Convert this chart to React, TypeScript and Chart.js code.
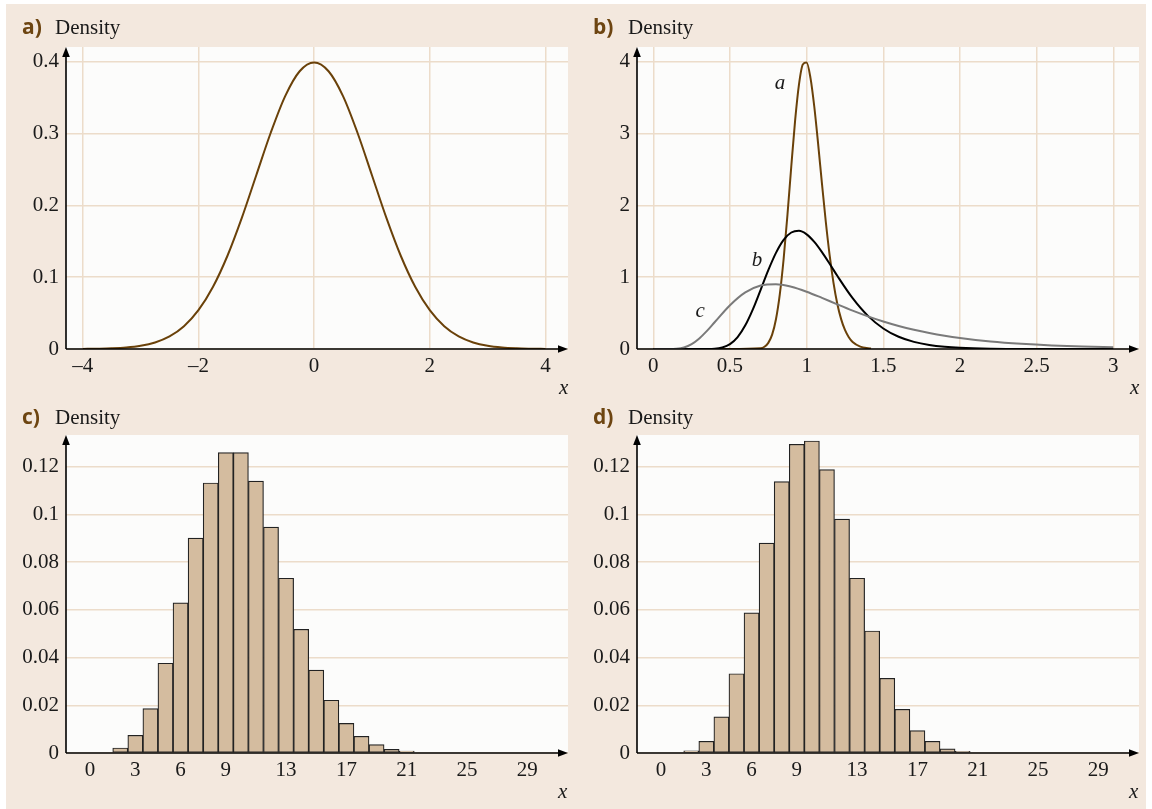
import React, { useEffect, useRef } from 'react';
import { Chart, registerables } from 'chart.js';

Chart.register(...registerables);

const SERIF = '"Liberation Serif", "Times New Roman", serif';
const SANS = '"Open Sans", "DejaVu Sans", sans-serif';
const BG = '#f3e8de';
const PLOT_BG = '#fcfcfb';
const GRID = '#ecdcca';
const BROWN = '#6a4109';
const LABEL_BROWN = '#6d4511';
const TEXT = '#1a1a1a';
const BAR_FILL = '#d4bc9f';
const BAR_EDGE = '#222222';

// ---------- Panel a: density curve ----------
const aX = [-4, -3.75, -3.5, -3.25, -3, -2.75, -2.5, -2.25, -2, -1.75, -1.5, -1.25, -1, -0.75, -0.5, -0.25, 0,
  0.25, 0.5, 0.75, 1, 1.25, 1.5, 1.75, 2, 2.25, 2.5, 2.75, 3, 3.25, 3.5, 3.75, 4];
const aY = [0.0001, 0.0004, 0.0009, 0.002, 0.0044, 0.0091, 0.0175, 0.0317, 0.054, 0.0863, 0.1295, 0.1826, 0.242,
  0.3011, 0.3521, 0.3867, 0.3989, 0.3867, 0.3521, 0.3011, 0.242, 0.1826, 0.1295, 0.0863, 0.054, 0.0317, 0.0175,
  0.0091, 0.0044, 0.002, 0.0009, 0.0004, 0.0001];
const aXTicks = [-4, -2, 0, 2, 4];
const aXTickLabels = ['–4', '–2', '0', '2', '4'];
const aYTicks = [0, 0.1, 0.2, 0.3, 0.4];
const aYTickLabels = ['0', '0.1', '0.2', '0.3', '0.4'];

// ---------- Panel b: three curves ----------
const curveAX = [0, 0.5, 0.7, 0.725, 0.75, 0.775, 0.8, 0.825, 0.85, 0.875, 0.9, 0.925, 0.95, 0.975, 1.0, 1.025,
  1.05, 1.075, 1.1, 1.125, 1.15, 1.175, 1.2, 1.225, 1.25, 1.275, 1.3, 1.35, 1.4, 1.42];
const curveAY = [0, 0, 0.01, 0.031, 0.085, 0.2, 0.414, 0.76, 1.253, 1.869, 2.544, 3.183, 3.682, 3.962, 3.989, 3.775,
  3.373, 2.857, 2.303, 1.772, 1.306, 0.925, 0.631, 0.416, 0.265, 0.164, 0.098, 0.033, 0.01, 0.006];
const curveBX = [0, 0.3, 0.4, 0.45, 0.5, 0.55, 0.6, 0.65, 0.7, 0.75, 0.8, 0.85, 0.9, 0.95, 1.0, 1.05, 1.1, 1.15,
  1.2, 1.3, 1.4, 1.5, 1.6, 1.7, 1.8, 1.9, 2.0, 2.2, 2.5, 3.0];
const curveBY = [0, 0.0001, 0.005, 0.022, 0.068, 0.166, 0.33, 0.556, 0.824, 1.098, 1.339, 1.52, 1.622, 1.645,
  1.596, 1.491, 1.349, 1.187, 1.019, 0.708, 0.461, 0.286, 0.17, 0.099, 0.056, 0.031, 0.017, 0.005, 0.001, 0];
const curveCX = [0, 0.1, 0.15, 0.2, 0.25, 0.3, 0.35, 0.4, 0.5, 0.6, 0.7, 0.8, 0.9, 1.0, 1.1, 1.2, 1.3, 1.4, 1.5,
  1.6, 1.7, 1.8, 1.9, 2.0, 2.2, 2.4, 2.6, 2.8, 3.0];
const curveCY = [0, 0.0002, 0.004, 0.022, 0.068, 0.147, 0.252, 0.372, 0.61, 0.789, 0.884, 0.903, 0.867, 0.798,
  0.712, 0.622, 0.535, 0.455, 0.383, 0.321, 0.267, 0.222, 0.184, 0.153, 0.105, 0.072, 0.049, 0.034, 0.024];
const curveNames = ['a', 'b', 'c'];
const bXTicks = [0, 0.5, 1, 1.5, 2, 2.5, 3];
const bXTickLabels = ['0', '0.5', '1', '1.5', '2', '2.5', '3'];
const bYTicks = [0, 1, 2, 3, 4];
const bYTickLabels = ['0', '1', '2', '3', '4'];

// ---------- Panels c, d: histograms ----------
const histCX = [2, 3, 4, 5, 6, 7, 8, 9, 10, 11, 12, 13, 14, 15, 16, 17, 18, 19, 20, 21];
const histCY = [0.0021, 0.0074, 0.0186, 0.0376, 0.0629, 0.09, 0.1131, 0.1258, 0.1258, 0.1139, 0.0946, 0.0732,
  0.0518, 0.0347, 0.0221, 0.0124, 0.007, 0.0035, 0.0015, 0.0008];
const histDX = [2, 3, 4, 5, 6, 7, 8, 9, 10, 11, 12, 13, 14, 15, 16, 17, 18, 19, 20];
const histDY = [0.0009, 0.0049, 0.0151, 0.0332, 0.0587, 0.0879, 0.1137, 0.1293, 0.1307, 0.1187, 0.098, 0.0732,
  0.0511, 0.0313, 0.0183, 0.0094, 0.0049, 0.0017, 0.0007];
const histXTicks = [0, 3, 6, 9, 13, 17, 21, 25, 29];
const histXTickLabels = ['0', '3', '6', '9', '13', '17', '21', '25', '29'];
const histYTicks = [0, 0.02, 0.04, 0.06, 0.08, 0.1, 0.12];
const histYTickLabels = ['0', '0.02', '0.04', '0.06', '0.08', '0.1', '0.12'];

// ---------- helpers ----------
const framePlugin = {
  id: 'frame',
  beforeDraw(chart: any) {
    const { ctx, chartArea } = chart;
    const { left, top, right, bottom } = chartArea;
    ctx.save();
    ctx.fillStyle = PLOT_BG;
    ctx.fillRect(left, top, right - left, bottom - top);
    ctx.restore();
  },
  afterDatasetsDraw(chart: any) {
    const { ctx, chartArea } = chart;
    const { left, top, right, bottom } = chartArea;
    ctx.save();
    ctx.strokeStyle = '#000';
    ctx.fillStyle = '#000';
    ctx.lineWidth = 1.6;
    ctx.beginPath();
    ctx.moveTo(left, bottom);
    ctx.lineTo(left, top + 6);
    ctx.moveTo(left, bottom);
    ctx.lineTo(right - 6, bottom);
    ctx.stroke();
    ctx.beginPath();
    ctx.moveTo(left, top);
    ctx.lineTo(left - 3.8, top + 10);
    ctx.lineTo(left + 3.8, top + 10);
    ctx.closePath();
    ctx.fill();
    ctx.beginPath();
    ctx.moveTo(right, bottom);
    ctx.lineTo(right - 10, bottom - 3.8);
    ctx.lineTo(right - 10, bottom + 3.8);
    ctx.closePath();
    ctx.fill();
    ctx.restore();
  },
};

function curveTextPlugin(items: { text: string; x: number; y: number }[]) {
  return {
    id: 'curveText',
    afterDatasetsDraw(chart: any) {
      const { ctx } = chart;
      const xs = chart.scales.x;
      const ys = chart.scales.y;
      ctx.save();
      ctx.font = `italic 21px ${SERIF}`;
      ctx.fillStyle = TEXT;
      ctx.textAlign = 'center';
      ctx.textBaseline = 'middle';
      items.forEach((it) => ctx.fillText(it.text, xs.getPixelForValue(it.x), ys.getPixelForValue(it.y)));
      ctx.restore();
    },
  };
}

type AxisOpts = {
  xMin: number; xMax: number; yMax: number;
  xTicks: number[]; xLabels: string[]; yTicks: number[]; yLabels: string[];
  vGrid: boolean; pad: { left: number; top: number; right: number; bottom: number };
};

function baseOptions(o: AxisOpts): any {
  const tickFont = { family: SERIF, size: 21 };
  return {
    responsive: false,
    animation: false,
    events: [],
    layout: { autoPadding: false, padding: o.pad },
    plugins: { legend: { display: false }, tooltip: { enabled: false }, title: { display: false } },
    scales: {
      x: {
        type: 'linear',
        offset: false,
        min: o.xMin,
        max: o.xMax,
        afterBuildTicks: (s: any) => { s.ticks = o.xTicks.map((v) => ({ value: v })); },
        afterFit: (s: any) => { s.height = 40; },
        grid: { display: o.vGrid, offset: false, color: GRID, lineWidth: 1.5, drawTicks: false },
        border: { display: false },
        ticks: {
          autoSkip: false, maxRotation: 0, minRotation: 0, padding: 5, color: TEXT, font: tickFont,
          callback: (_v: any, i: number) => o.xLabels[i],
        },
      },
      y: {
        type: 'linear',
        min: 0,
        max: o.yMax,
        afterBuildTicks: (s: any) => { s.ticks = o.yTicks.map((v) => ({ value: v })); },
        afterFit: (s: any) => { s.width = 50; },
        grid: { color: GRID, lineWidth: 1.5, drawTicks: false },
        border: { display: false },
        ticks: {
          autoSkip: false, padding: 7, color: TEXT, font: tickFont,
          callback: (_v: any, i: number) => o.yLabels[i],
        },
      },
    },
  };
}

const toXY = (xs: number[], ys: number[]) => xs.map((x, i) => ({ x, y: ys[i] }));

const lineDs = (xs: number[], ys: number[], color: string) => ({
  type: 'line',
  data: toXY(xs, ys),
  borderColor: color,
  borderWidth: 2,
  pointRadius: 0,
  fill: false,
  cubicInterpolationMode: 'monotone',
});

const barDs = (xs: number[], ys: number[]) => ({
  type: 'bar',
  data: toXY(xs, ys),
  backgroundColor: BAR_FILL,
  borderColor: BAR_EDGE,
  borderWidth: 1.2,
  borderSkipped: false,
  barPercentage: 1,
  categoryPercentage: 1,
  grouped: false,
});

const padTop = { left: 16, top: 47, right: 8, bottom: 15 };
const padTopR = { left: 11, top: 47, right: 13, bottom: 15 };
const padBot = { left: 16, top: 31, right: 8, bottom: 16 };
const padBotR = { left: 11, top: 31, right: 13, bottom: 16 };

const panels = [
  {
    key: 'a', x: 0, y: 0, w: 576, h: 404,
    config: () => ({
      type: 'line',
      data: { datasets: [lineDs(aX, aY, BROWN)] },
      options: baseOptions({
        xMin: -4.29, xMax: 4.39, yMax: 0.4205, xTicks: aXTicks, xLabels: aXTickLabels,
        yTicks: aYTicks, yLabels: aYTickLabels, vGrid: true, pad: padTop,
      }),
      plugins: [framePlugin],
    }),
  },
  {
    key: 'b', x: 576, y: 0, w: 576, h: 404,
    config: () => ({
      type: 'line',
      data: {
        datasets: [
          lineDs(curveCX, curveCY, '#7a7a7a'),
          lineDs(curveBX, curveBY, '#000000'),
          lineDs(curveAX, curveAY, BROWN),
        ],
      },
      options: baseOptions({
        xMin: -0.1063, xMax: 3.1677, yMax: 4.205, xTicks: bXTicks, xLabels: bXTickLabels,
        yTicks: bYTicks, yLabels: bYTickLabels, vGrid: true, pad: padTopR,
      }),
      plugins: [framePlugin, curveTextPlugin([
        { text: curveNames[0], x: 0.826, y: 3.694 },
        { text: curveNames[1], x: 0.676, y: 1.233 },
        { text: curveNames[2], x: 0.305, y: 0.525 },
      ])],
    }),
  },
  {
    key: 'c', x: 0, y: 404, w: 576, h: 405,
    config: () => ({
      type: 'bar',
      data: { datasets: [barDs(histCX, histCY)] },
      options: baseOptions({
        xMin: -1.6, xMax: 31.7, yMax: 0.1332, xTicks: histXTicks, xLabels: histXTickLabels,
        yTicks: histYTicks, yLabels: histYTickLabels, vGrid: false, pad: padBot,
      }),
      plugins: [framePlugin],
    }),
  },
  {
    key: 'd', x: 576, y: 404, w: 576, h: 405,
    config: () => ({
      type: 'bar',
      data: { datasets: [barDs(histDX, histDY)] },
      options: baseOptions({
        xMin: -1.6, xMax: 31.7, yMax: 0.1332, xTicks: histXTicks, xLabels: histXTickLabels,
        yTicks: histYTicks, yLabels: histYTickLabels, vGrid: false, pad: padBotR,
      }),
      plugins: [framePlugin],
    }),
  },
];

function ChartPanel({ spec }: { spec: any }) {
  const ref = useRef<HTMLCanvasElement>(null);
  useEffect(() => {
    if (!ref.current) return;
    const chart = new Chart(ref.current, spec.config());
    return () => chart.destroy();
  }, []);
  return (
    <canvas
      ref={ref}
      width={spec.w}
      height={spec.h}
      style={{ position: 'absolute', left: spec.x, top: spec.y, width: spec.w, height: spec.h }}
    />
  );
}

const panelLetters = ['a)', 'b)', 'c)', 'd)'];
const letterPos = [
  { left: 22, top: 16.4 },
  { left: 593, top: 16.4 },
  { left: 22, top: 406.4 },
  { left: 593, top: 406.4 },
];
const densityPos = [
  { left: 55, top: 16.7 },
  { left: 628, top: 16.7 },
  { left: 55, top: 406.7 },
  { left: 628, top: 406.7 },
];
const xLabelPos = [
  { left: 559, top: 377.4 },
  { left: 1130, top: 377.4 },
  { left: 558, top: 781.4 },
  { left: 1129, top: 781.4 },
];

export default function App() {
  const textBase: React.CSSProperties = { position: 'absolute', lineHeight: 1, whiteSpace: 'nowrap' };
  return (
    <div style={{ position: 'absolute', left: 0, top: 0, width: 1152, height: 809, overflow: 'hidden', background: '#ffffff' }}>
      <div style={{ position: 'absolute', left: 6, top: 4, width: 1140, height: 805, background: BG }} />
      {panels.map((p) => <ChartPanel key={p.key} spec={p} />)}
      {panelLetters.map((t, i) => (
        <div key={'l' + i} style={{ ...textBase, ...letterPos[i], fontFamily: SANS, fontWeight: 700, fontSize: 21, color: LABEL_BROWN }}>{t}</div>
      ))}
      {densityPos.map((pos, i) => (
        <div key={'d' + i} style={{ ...textBase, ...pos, fontFamily: SERIF, fontSize: 21, color: TEXT }}>Density</div>
      ))}
      {xLabelPos.map((pos, i) => (
        <div key={'x' + i} style={{ ...textBase, ...pos, fontFamily: SERIF, fontStyle: 'italic', fontSize: 21, color: TEXT }}>x</div>
      ))}
    </div>
  );
}
